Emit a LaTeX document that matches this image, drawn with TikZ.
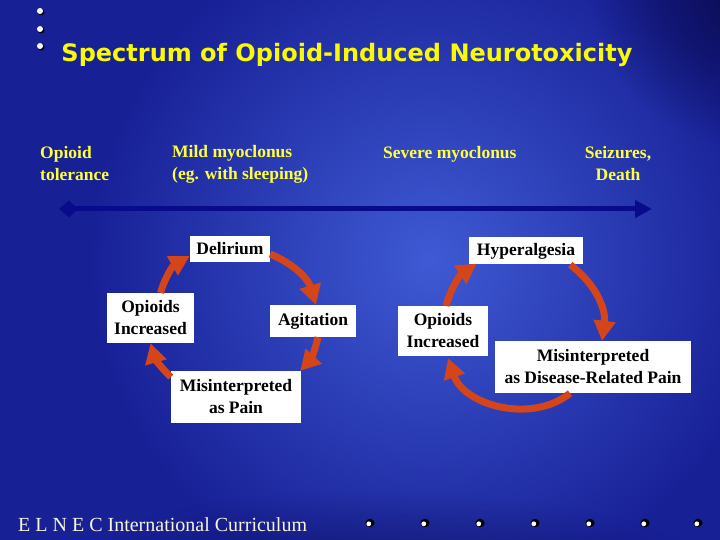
\documentclass[tikz,border=0pt]{standalone}
\usepackage{fontspec}
\setmainfont{Liberation Serif}
\newfontfamily\titlefont{DejaVu Sans}
\usetikzlibrary{arrows.meta,fadings}
\tikzfading[name=radfade, inner color=transparent!0, outer color=transparent!100]
\definecolor{bgbase}{RGB}{24,32,150}
\definecolor{bglight}{RGB}{62,90,212}
\definecolor{bgdark}{RGB}{8,8,70}
\definecolor{spyellow}{RGB}{255,255,60}
\definecolor{titleyellow}{RGB}{250,250,0}
\definecolor{linkblue}{RGB}{8,12,140}
\definecolor{cyclered}{RGB}{212,70,25}
\definecolor{footcream}{RGB}{245,245,220}
\tikzset{
  spectext/.style={text=spyellow, font=\fontsize{17.5}{22}\selectfont\bfseries, inner sep=0pt},
  cyclebox/.style={fill=white, text=black, font=\fontsize{17.5}{22}\selectfont\bfseries, align=center, inner sep=0pt},
  cyclearrow/.style={draw=cyclered, line width=7pt, -{Triangle[length=20pt,width=21pt]}},
  topdot/.pic={\fill[black] (1.1,-1.1) circle (3.3); \fill[white] (0,0) circle (3);},
  footdot/.pic={\fill[black] (0,0) ellipse (4.6 and 4.2); \fill[white] (-1.2,-0.8) circle (2.4);}
}
\begin{document}
\begin{tikzpicture}[x=1pt,y=1pt]
\useasboundingbox (0,0) rectangle (720,540);
% background
\begin{scope}
\clip (0,0) rectangle (720,540);
\fill[bgbase] (0,0) rectangle (720,540);
\shade[inner color=bglight, outer color=bgbase] (430,280) circle (340);
\fill[bgdark, path fading=radfade] (760,560) circle (170);
\fill[bgdark, path fading=radfade, opacity=0.6] (380,-60) ellipse (360 and 110);
\end{scope}
% top-left dots
\pic at (40,529) {topdot};
\pic at (40,511) {topdot};
\pic at (40,494) {topdot};
% title
\node[text=titleyellow, font=\titlefont\bfseries\fontsize{24}{28}\selectfont, inner sep=0pt] (title) at (347,485) {Spectrum of Opioid-Induced Neurotoxicity};
% spectrum labels
\node[spectext, anchor=west, align=left] (tol) at (40,376) {Opioid\\tolerance};
\node[spectext, anchor=west, align=left] (mild) at (172,376) {Mild myoclonus\\(eg. with sleeping)};
\node[spectext, anchor=west] (severe) at (383,386) {Severe myoclonus};
\node[spectext, align=center] (seiz) at (618,376) {Seizures,\\Death};
% spectrum arrow
\coordinate (sL) at (59,331);
\coordinate (sR) at (652,331);
\draw[linkblue, line width=5pt, {Kite[length=19pt,width=17pt,inset=9pt]}-{Triangle[length=17pt,width=17pt]}] (sL) -- (sR);
% left cycle boxes
\node[cyclebox, minimum width=80pt, minimum height=26pt] (del) at (230,291) {Delirium};
\node[cyclebox, minimum width=87pt, minimum height=50pt] (opl) at (150.5,222) {Opioids\\Increased};
\node[cyclebox, minimum width=86pt, minimum height=32pt] (agi) at (313,219) {Agitation};
\node[cyclebox, minimum width=130pt, minimum height=52pt] (mis) at (236,143) {Misinterpreted\\as Pain};
% right cycle boxes
\node[cyclebox, minimum width=114pt, minimum height=27pt] (hyp) at (526,289) {Hyperalgesia};
\node[cyclebox, minimum width=90pt, minimum height=50pt] (opr) at (443,209) {Opioids\\Increased};
\node[cyclebox, minimum width=196pt, minimum height=52pt] (mrd) at (593,173) {Misinterpreted\\as Disease-Related Pain};
% left cycle arrows
\draw[cyclearrow] ([xshift=10pt]opl.north) to[bend left=22] ([yshift=-7pt]del.west);
\draw[cyclearrow] ([yshift=-5pt]del.east) to[bend left=25] ([xshift=3pt]agi.north);
\draw[cyclearrow] ([xshift=5pt]agi.south) to[bend left=15] ([xshift=-1pt]mis.north east);
\draw[cyclearrow] ([yshift=20pt]mis.west) to[bend left=15] (opl.south);
% right cycle arrows
\draw[cyclearrow] ([xshift=3pt]opr.north) to[bend left=20] ([xshift=8pt,yshift=1pt]hyp.south west);
\draw[cyclearrow] ([xshift=-13pt]hyp.south east) to[bend left=30] ([xshift=9pt]mrd.north);
\draw[cyclearrow] ([xshift=-23pt]mrd.south) to[bend left=55] ([xshift=5pt,yshift=-2pt]opr.south);
% footer
\node[text=footcream, font=\fontsize{20}{24}\selectfont, anchor=west, inner sep=0pt] (foot) at (18,15) {E L N E C International Curriculum};
\foreach \dx in {370,425,480,535,590,645,698} {\pic at (\dx,17) {footdot};}
\end{tikzpicture}
\end{document}
